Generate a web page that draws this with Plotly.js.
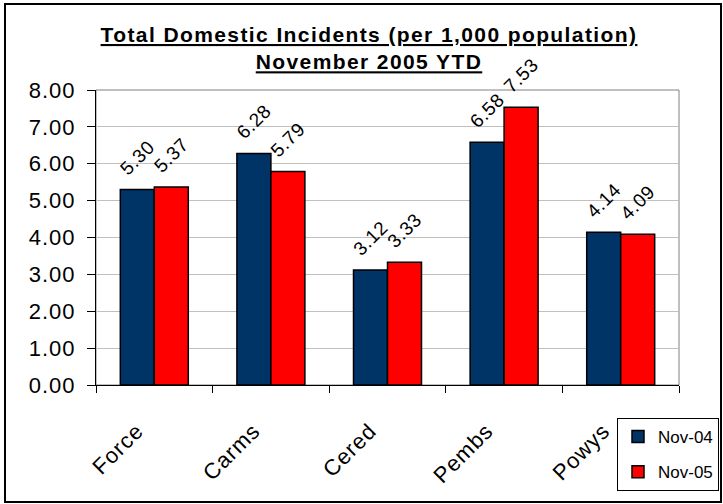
<!DOCTYPE html>
<html>
<head>
<meta charset="utf-8">
<script src="https://cdn.plot.ly/plotly-3.0.1.min.js"></script>
<style>
html,body{margin:0;padding:0;background:#fff;}
#wrap{position:relative;width:723px;height:504px;}
#chart{width:723px;height:504px;}
#frame{position:absolute;left:4px;top:3px;width:714px;height:496px;border:2px solid #000;pointer-events:none;}
</style>
</head>
<body>
<div id="wrap"><div id="chart"></div><div id="frame"></div></div>
<script>
var categories = ["Force", "Carms", "Cered", "Pembs", "Powys"];
var nov04 = [5.30, 6.28, 3.12, 6.58, 4.14];
var nov05 = [5.37, 5.79, 3.33, 7.53, 4.09];
var seriesNames = ["Nov-04", "Nov-05"];
var yTicks = [0, 1, 2, 3, 4, 5, 6, 7, 8];

var FONT = "Liberation Sans, Arial, sans-serif";
var NB = "\u00a0";
function sp(s, ls) { return '<span style="letter-spacing:' + ls + 'px">' + s + '</span>'; }

function barTrace(name, vals, color, group) {
  return {
    type: "bar",
    name: name,
    x: categories,
    y: vals,
    legendgroup: group,
    marker: {color: color, line: {color: "#000000", width: 1.5}},
    text: vals.map(function (v) { return NB + NB + sp(v.toFixed(2), 0.6) + NB + NB; }),
    textposition: "outside",
    textangle: -45,
    constraintext: "none",
    cliponaxis: false,
    textfont: {family: FONT, size: 19, color: "#000000"},
    hoverinfo: "x+y"
  };
}

var data = [
  barTrace(seriesNames[0], nov04, "#003366", "a"),
  barTrace(seriesNames[1], nov05, "#FF0000", "b")
];

var L = 96, R = 44, T = 90, B = 119;
var W = 723, H = 504;

var layout = {
  width: W,
  height: H,
  margin: {l: L, r: R, t: T, b: B, pad: 0, autoexpand: false},
  paper_bgcolor: "#ffffff",
  plot_bgcolor: "#ffffff",
  font: {family: FONT, color: "#000000"},
  title: {
    text: "<b><u>" + sp("Total Domestic Incidents (per 1,000 population)", 1.4) + "</u></b><br><b><u>" + sp("November 2005 YTD", 1.4) + "</u></b>",
    font: {family: FONT, size: 21, color: "#000000"},
    x: 369 / W,
    xref: "container",
    xanchor: "center",
    y: (H - 42) / H,
    yref: "container",
    yanchor: "middle"
  },
  barmode: "group",
  bargap: 0.417,
  bargroupgap: 0,
  showlegend: true,
  legend: {
    xref: "container", yref: "container",
    x: 719 / W, y: (H - 418) / H,
    xanchor: "right", yanchor: "top",
    bordercolor: "#000000", borderwidth: 1,
    bgcolor: "#ffffff",
    font: {family: FONT, size: 17, color: "#000000"},
    tracegroupgap: 10,
    itemwidth: 30,
    traceorder: "grouped"
  },
  xaxis: {
    type: "category",
    tickangle: -45,
    tickvals: categories,
    ticktext: categories.map(function (c) { return sp(c, 1) + NB + NB + NB + NB; }),
    tickfont: {family: FONT, size: 22, color: "#000000"},
    ticks: "outside",
    tickson: "boundaries",
    ticklen: 7,
    tickcolor: "#000000",
    showline: true,
    linecolor: "#000000",
    linewidth: 1,
    showgrid: false,
    zeroline: false,
    ticklabelstandoff: 6,
    automargin: false
  },
  yaxis: {
    range: [0, 8],
    tickvals: yTicks,
    ticktext: yTicks.map(function (v) { return sp(v.toFixed(2), 1); }),
    tickfont: {family: FONT, size: 22, color: "#000000"},
    ticks: "outside",
    ticklen: 8,
    tickcolor: "#000000",
    showline: true,
    linecolor: "#000000",
    linewidth: 1,
    showgrid: true,
    gridcolor: "#c0c0c0",
    gridwidth: 1,
    zeroline: false,
    ticklabelstandoff: 7,
    automargin: false
  },
  shapes: [
    {type: "rect", xref: "paper", yref: "paper", x0: 0, x1: 1, y0: 0, y1: 1,
     line: {color: "#808080", width: 1}, layer: "below"}
  ]
};

Plotly.newPlot("chart", data, layout, {displayModeBar: false, staticPlot: true});
</script>
</body>
</html>
